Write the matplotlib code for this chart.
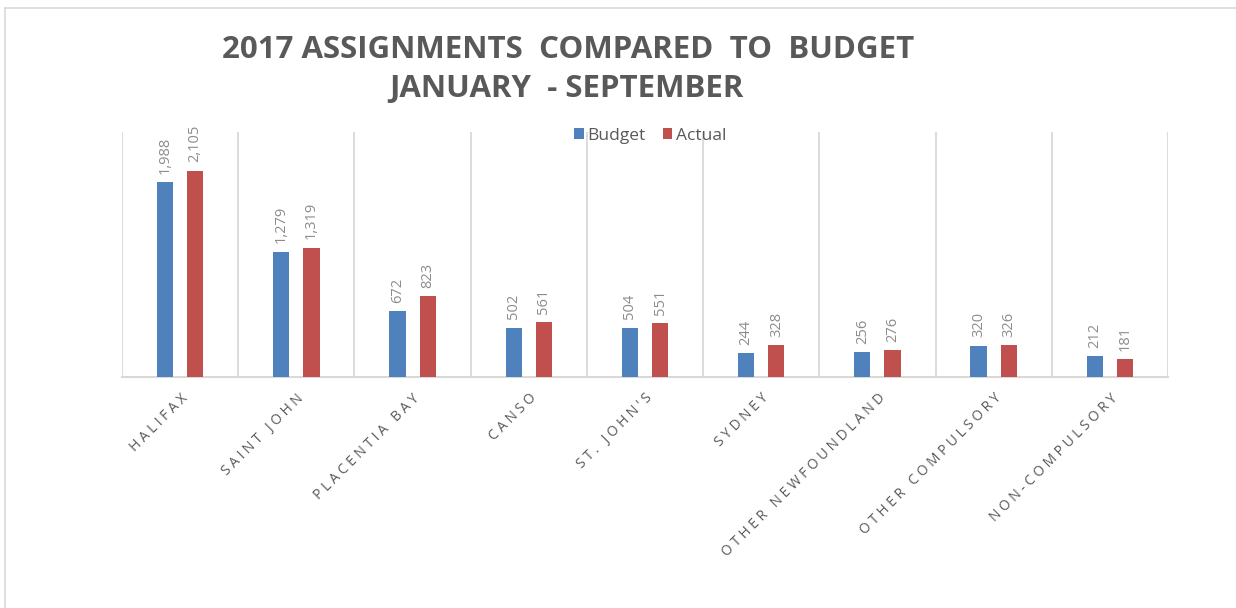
import matplotlib
matplotlib.use("Agg")
import matplotlib.pyplot as plt
import numpy as np
from matplotlib.lines import Line2D

categories = ["HALIFAX", "SAINT JOHN", "PLACENTIA BAY", "CANSO", "ST. JOHN'S",
              "SYDNEY", "OTHER NEWFOUNDLAND", "OTHER COMPULSORY", "NON-COMPULSORY"]
budget = [1988, 1279, 672, 502, 504, 244, 256, 320, 212]
actual = [2105, 1319, 823, 561, 551, 328, 276, 326, 181]
series_names = ["Budget", "Actual"]
colors = ["#4f81bd", "#c0504d"]

plt.rcParams['font.family'] = ['Open Sans', 'DejaVu Sans']


def spaced(s, sep="\u2005"):
    return sep.join(s)


fig = plt.figure(figsize=(12.36, 6.08), dpi=100)
ax = fig.add_axes([122/1236, 1-377/608, (1168-122)/1236, (377-132)/608])

x = np.arange(len(categories))
w = 0.14
off = 0.13
b1 = ax.bar(x - off, budget, w, color=colors[0], label=series_names[0], zorder=3)
b2 = ax.bar(x + off, actual, w, color=colors[1], label=series_names[1], zorder=3)

for bars, vals in ((b1, budget), (b2, actual)):
    for r, v in zip(bars, vals):
        ax.annotate(f"{v:,}", (r.get_x() + r.get_width()/2, r.get_height()),
                    xytext=(0, 6), textcoords="offset points", rotation=90,
                    ha="center", va="bottom", fontsize=10.5, color="#8c8c8c")

ax.set_xlim(-0.5, len(categories) - 0.5)
ax.set_ylim(0, 2500)
ax.set_yticks([])
for b in np.arange(-0.5, len(categories), 1.0):
    ax.axvline(b, color="#d9d9d9", lw=1.3, zorder=1)
for s in ["top", "left", "right"]:
    ax.spines[s].set_visible(False)
ax.spines["bottom"].set_color("#d9d9d9")
ax.spines["bottom"].set_linewidth(1.5)

ax.set_xticks(x)
ax.set_xticklabels([spaced(c) for c in categories], rotation=45, ha="right",
                   rotation_mode="anchor", fontsize=10, color="#595959")
ax.tick_params(axis="x", length=0, pad=10)

fig.text(0.46, 0.918, "2017 ASSIGNMENTS  COMPARED  TO  BUDGET", ha="center", va="center",
         fontsize=22.5, fontweight="bold", color="#595959")
fig.text(0.458, 0.853, "JANUARY  - SEPTEMBER", ha="center", va="center",
         fontsize=22.5, fontweight="bold", color="#595959")

leg = ax.legend(loc="center", bbox_to_anchor=(0.505, 0.985), ncol=2, frameon=False,
                fontsize=12.5, handlelength=0.55, handleheight=0.55, handletextpad=0.2,
                columnspacing=1.0, borderaxespad=0)
for t in leg.get_texts():
    t.set_color("#595959")

fig.add_artist(Line2D([5/1236, 1], [1-8/608, 1-8/608], transform=fig.transFigure,
                      color="#d9d9d9", lw=1.2))
fig.add_artist(Line2D([5/1236, 5/1236], [0, 1-8/608], transform=fig.transFigure,
                      color="#d9d9d9", lw=1.2))

fig.savefig("out.png", dpi=100)
